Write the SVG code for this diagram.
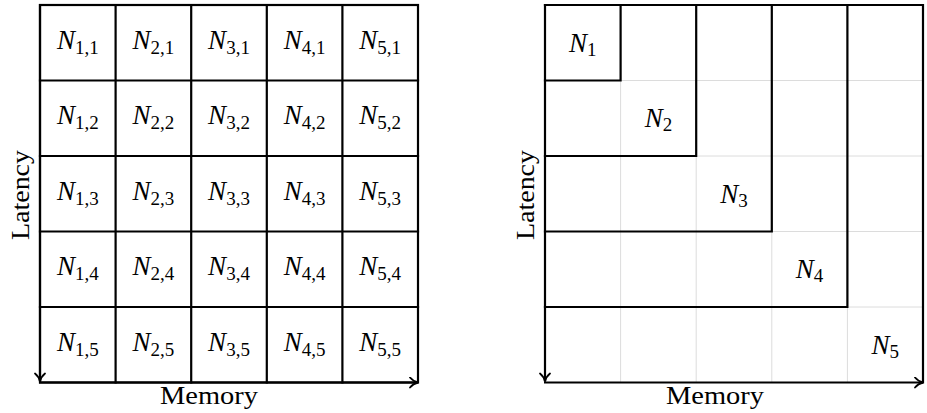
<svg xmlns="http://www.w3.org/2000/svg" width="927" height="413" viewBox="0 0 927 413">
<style>
  .grid { stroke: #000; stroke-width: 2.2; fill: none; stroke-linecap: square; }
  .thin { stroke: #dcdcdc; stroke-width: 1; fill: none; }
  .axis { stroke: #000; stroke-width: 2.2; fill: none; }
  .lbl { font-family: "Liberation Serif", "DejaVu Serif", serif; font-size: 27px; font-style: italic; text-anchor: middle; fill: #000; }
  .sub { font-size: 19px; font-style: normal; }
  .ax { font-family: "Liberation Serif", "DejaVu Serif", serif; font-size: 25px; text-anchor: middle; fill: #000; }
</style>
<defs>
  <marker id="arr" viewBox="-10 -6 12 12" refX="0" refY="0" markerWidth="12" markerHeight="12" markerUnits="userSpaceOnUse" orient="auto">
    <path d="M-8,-5 C-6,-2.5 -2.5,-0.6 0,0 C-2.5,0.6 -6,2.5 -8,5" stroke="#000" stroke-width="1.8" fill="none" stroke-linecap="round"/>
  </marker>
</defs>

<!-- Left panel: grid cells -->
<g id="left-grid">
  <g id="cells" class="grid">
    <rect x="40" y="5" width="378" height="377.5"/>
    <path d="M115.6,5 V382.5 M191.2,5 V382.5 M266.8,5 V382.5 M342.4,5 V382.5"/>
    <path d="M40,80.5 H418 M40,156 H418 M40,231.5 H418 M40,307 H418"/>
  </g>
  <g id="n11"><text class="lbl" x="77.8" y="48.5">N<tspan class="sub" dy="5">1,1</tspan></text></g>
  <g id="n21"><text class="lbl" x="153.4" y="48.5">N<tspan class="sub" dy="5">2,1</tspan></text></g>
  <g id="n31"><text class="lbl" x="229" y="48.5">N<tspan class="sub" dy="5">3,1</tspan></text></g>
  <g id="n41"><text class="lbl" x="304.6" y="48.5">N<tspan class="sub" dy="5">4,1</tspan></text></g>
  <g id="n51"><text class="lbl" x="380.2" y="48.5">N<tspan class="sub" dy="5">5,1</tspan></text></g>

  <g id="n12"><text class="lbl" x="77.8" y="124">N<tspan class="sub" dy="5">1,2</tspan></text></g>
  <g id="n22"><text class="lbl" x="153.4" y="124">N<tspan class="sub" dy="5">2,2</tspan></text></g>
  <g id="n32"><text class="lbl" x="229" y="124">N<tspan class="sub" dy="5">3,2</tspan></text></g>
  <g id="n42"><text class="lbl" x="304.6" y="124">N<tspan class="sub" dy="5">4,2</tspan></text></g>
  <g id="n52"><text class="lbl" x="380.2" y="124">N<tspan class="sub" dy="5">5,2</tspan></text></g>

  <g id="n13"><text class="lbl" x="77.8" y="199.5">N<tspan class="sub" dy="5">1,3</tspan></text></g>
  <g id="n23"><text class="lbl" x="153.4" y="199.5">N<tspan class="sub" dy="5">2,3</tspan></text></g>
  <g id="n33"><text class="lbl" x="229" y="199.5">N<tspan class="sub" dy="5">3,3</tspan></text></g>
  <g id="n43"><text class="lbl" x="304.6" y="199.5">N<tspan class="sub" dy="5">4,3</tspan></text></g>
  <g id="n53"><text class="lbl" x="380.2" y="199.5">N<tspan class="sub" dy="5">5,3</tspan></text></g>

  <g id="n14"><text class="lbl" x="77.8" y="275">N<tspan class="sub" dy="5">1,4</tspan></text></g>
  <g id="n24"><text class="lbl" x="153.4" y="275">N<tspan class="sub" dy="5">2,4</tspan></text></g>
  <g id="n34"><text class="lbl" x="229" y="275">N<tspan class="sub" dy="5">3,4</tspan></text></g>
  <g id="n44"><text class="lbl" x="304.6" y="275">N<tspan class="sub" dy="5">4,4</tspan></text></g>
  <g id="n54"><text class="lbl" x="380.2" y="275">N<tspan class="sub" dy="5">5,4</tspan></text></g>

  <g id="n15"><text class="lbl" x="77.8" y="350.5">N<tspan class="sub" dy="5">1,5</tspan></text></g>
  <g id="n25"><text class="lbl" x="153.4" y="350.5">N<tspan class="sub" dy="5">2,5</tspan></text></g>
  <g id="n35"><text class="lbl" x="229" y="350.5">N<tspan class="sub" dy="5">3,5</tspan></text></g>
  <g id="n45"><text class="lbl" x="304.6" y="350.5">N<tspan class="sub" dy="5">4,5</tspan></text></g>
  <g id="n55"><text class="lbl" x="380.2" y="350.5">N<tspan class="sub" dy="5">5,5</tspan></text></g>
</g>

<!-- Right panel -->
<g id="right-grid">
  <g id="light-grid" class="thin">
    <path d="M620.6,5 V382.5 M696.2,5 V382.5 M771.8,5 V382.5 M847.4,5 V382.5"/>
    <path d="M545,80.5 H923 M545,156 H923 M545,231.5 H923 M545,307 H923"/>
  </g>
  <g id="r1"><path class="grid" d="M545,5 H620.6 V80.5 H545"/><text class="lbl" x="582.8" y="51.5">N<tspan class="sub" dy="4">1</tspan></text></g>
  <g id="r2"><path class="grid" d="M620.6,5 H696.2 V156 H545"/><text class="lbl" x="658.4" y="127">N<tspan class="sub" dy="4">2</tspan></text></g>
  <g id="r3"><path class="grid" d="M696.2,5 H771.8 V231.5 H545"/><text class="lbl" x="734" y="202.5">N<tspan class="sub" dy="4">3</tspan></text></g>
  <g id="r4"><path class="grid" d="M771.8,5 H847.4 V307 H545"/><text class="lbl" x="809.6" y="278">N<tspan class="sub" dy="4">4</tspan></text></g>
  <g id="r5"><path class="grid" d="M847.4,5 H923 V382.5"/><text class="lbl" x="885.2" y="353.5">N<tspan class="sub" dy="4">5</tspan></text></g>
</g>

<!-- Connectors: axes -->
<g id="connectors">
  <line class="axis" x1="40" y1="4" x2="40" y2="381.5" marker-end="url(#arr)"/>
  <line class="axis" x1="39" y1="382.5" x2="418" y2="382.5" marker-end="url(#arr)"/>
  <line class="axis" x1="545" y1="4" x2="545" y2="381.5" marker-end="url(#arr)"/>
  <line class="axis" x1="544" y1="382.5" x2="923" y2="382.5" marker-end="url(#arr)"/>
</g>

<!-- Axis labels -->
<g id="labels">
  <text class="ax" x="209" y="404" textLength="98" lengthAdjust="spacingAndGlyphs">Memory</text>
  <text class="ax" transform="translate(29,195) rotate(-90)" textLength="90" lengthAdjust="spacingAndGlyphs">Latency</text>
  <text class="ax" x="715" y="404" textLength="98" lengthAdjust="spacingAndGlyphs">Memory</text>
  <text class="ax" transform="translate(534,195) rotate(-90)" textLength="90" lengthAdjust="spacingAndGlyphs">Latency</text>
</g>
</svg>
